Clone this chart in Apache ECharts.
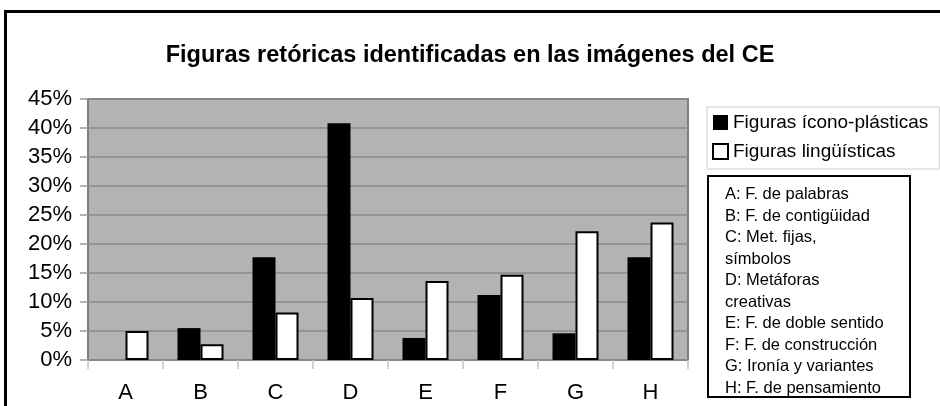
<!DOCTYPE html>
<html>
<head>
<meta charset="utf-8">
<script src="https://cdn.jsdelivr.net/npm/echarts@6/dist/echarts.min.js"></script>
<style>
  html, body { margin: 0; padding: 0; background: #fff; }
  #chart { width: 940px; height: 406px; }
</style>
</head>
<body>
<div id="chart"></div>
<script>
// categorías y valores (%)
const categories = ['A', 'B', 'C', 'D', 'E', 'F', 'G', 'H']
const iconoPlasticas = [0, 5.5, 17.7, 40.8, 3.8, 11.2, 4.6, 17.7]
const linguisticas = [5.0, 2.7, 8.2, 10.7, 13.6, 14.7, 22.2, 23.7]
const seriesNames = ['Figuras ícono-plásticas', 'Figuras lingüísticas']
const keyLines = [
  'A: F. de palabras',
  'B: F. de contigüidad',
  'C: Met. fijas,',
  'símbolos',
  'D: Metáforas',
  'creativas',
  'E: F. de doble sentido',
  'F: F. de construcción',
  'G: Ironía y variantes',
  'H: F. de pensamiento'
]

const font = '"Liberation Sans", Arial, sans-serif'
const chart = echarts.init(document.getElementById('chart'))

chart.setOption({
  backgroundColor: '#fff',
  animation: false,
  title: {
    text: 'Figuras retóricas identificadas en las imágenes del CE',
    left: 'center',
    top: 39,
    textStyle: { fontFamily: font, fontSize: 23.5, fontWeight: 'bold', color: '#000' }
  },
  legend: {
    orient: 'vertical',
    left: 707,
    top: 107,
    padding: [6, 11, 8, 5],
    itemGap: 10,
    itemWidth: 15,
    itemHeight: 15,
    backgroundColor: '#fff',
    borderColor: '#cfcfcf',
    borderWidth: 1,
    icon: 'rect',
    textStyle: { fontFamily: font, fontSize: 19, color: '#000' },
    data: seriesNames
  },
  grid: {
    left: 88,
    right: 252,
    top: 99,
    bottom: 46,
    show: true,
    backgroundColor: '#b3b3b3',
    borderColor: '#7f7f7f',
    borderWidth: 2
  },
  xAxis: {
    type: 'category',
    data: categories,
    axisLine: { show: false },
    axisTick: { show: true, length: 9, lineStyle: { color: '#c4c4c4', width: 1.5 } },
    axisLabel: { fontFamily: font, fontSize: 22, color: '#000', margin: 22 }
  },
  yAxis: {
    type: 'value',
    min: 0,
    max: 45,
    interval: 5,
    axisLine: { show: false },
    axisTick: { show: true, length: 8, lineStyle: { color: '#9a9a9a', width: 1.5 } },
    axisLabel: { fontFamily: font, fontSize: 22, color: '#000', margin: 16, formatter: '{value}%' },
    splitLine: { lineStyle: { color: '#8a8a8a', width: 1.5 } }
  },
  series: [
    {
      name: seriesNames[0],
      type: 'bar',
      data: iconoPlasticas,
      barWidth: 23,
      barGap: '0%',
      itemStyle: { color: '#000', borderWidth: 0 }
    },
    {
      name: seriesNames[1],
      type: 'bar',
      data: linguisticas,
      barWidth: 23,
      barGap: '0%',
      itemStyle: { color: '#fff', borderColor: '#000', borderWidth: 2 }
    }
  ],
  graphic: [
    {
      type: 'rect',
      silent: true,
      shape: { x: 5.5, y: 11.5, width: 980, height: 440 },
      style: { fill: 'none', stroke: '#000', lineWidth: 3 }
    },
    {
      type: 'rect',
      silent: true,
      shape: { x: 708, y: 176, width: 202, height: 221 },
      style: { fill: '#fff', stroke: '#000', lineWidth: 2 }
    },
    {
      type: 'text',
      silent: true,
      left: 725,
      top: 184,
      style: {
        text: keyLines.join('\n'),
        fontFamily: font,
        fontSize: 16.5,
        lineHeight: 21.5,
        fill: '#000'
      }
    }
  ]
})
</script>
</body>
</html>
